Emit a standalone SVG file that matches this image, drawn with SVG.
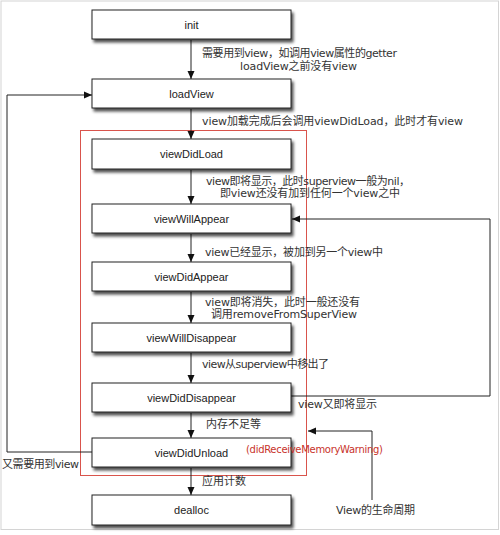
<svg xmlns="http://www.w3.org/2000/svg" width="500" height="535" viewBox="0 0 500 535">
<style>
.node rect{fill:#fff;stroke:#222;stroke-width:1;filter:url(#sh)}
.node text{font-family:"Liberation Sans","Noto Sans CJK SC",sans-serif;font-size:11px;fill:#222;text-anchor:middle}
.lbl{font-family:"DejaVu Sans","Noto Sans CJK SC",sans-serif;font-size:11px;fill:#333}
.red{fill:#c8322a;font-size:10px}
.conn path{fill:none;stroke:#222;stroke-width:1;marker-end:url(#ah)}
</style>
<defs>
<filter id="sh" x="-10%" y="-30%" width="130%" height="180%">
<feGaussianBlur in="SourceAlpha" stdDeviation="1.5"/>
<feOffset dx="1.5" dy="2.5" result="b"/>
<feComponentTransfer><feFuncA type="linear" slope="0.7"/></feComponentTransfer>
<feMerge><feMergeNode/><feMergeNode in="SourceGraphic"/></feMerge>
</filter>
<marker id="ah" markerWidth="8" markerHeight="8" refX="8" refY="4" orient="auto" markerUnits="userSpaceOnUse">
<path d="M0,0.5 L8,4 L0,7.5 Z" fill="#111"/>
</marker>
</defs>
<rect x="0" y="0" width="500" height="535" fill="#fff"/>
<rect x="1" y="1" width="497.5" height="528.5" fill="none" stroke="#d4d4d4" stroke-width="1"/>
<rect x="80.5" y="130.5" width="226" height="345" fill="none" stroke="#d9544c" stroke-width="1"/>

<g class="conn">
<path d="M191,40 V79"/>
<path d="M191,109 V139"/>
<path d="M191,170 V204"/>
<path d="M191,234 V262"/>
<path d="M191,292 V323"/>
<path d="M191,353 V383"/>
<path d="M191,413 V438"/>
<path d="M191,468 V495"/>
<path d="M92,452 H7 V95 H92"/>
<path d="M291,396 H490 V219 H292"/>
<path d="M372,500 V431 H308"/>
</g>

<g id="init" class="node"><rect x="92" y="10" width="199" height="29"/><text x="191.5" y="28.5">init</text></g>
<g id="loadView" class="node"><rect x="92" y="79" width="199" height="29"/><text x="191.5" y="97.5">loadView</text></g>
<g id="viewDidLoad" class="node"><rect x="92" y="139" width="199" height="30"/><text x="191.5" y="158">viewDidLoad</text></g>
<g id="viewWillAppear" class="node"><rect x="92" y="204" width="199" height="29"/><text x="191.5" y="222.5">viewWillAppear</text></g>
<g id="viewDidAppear" class="node"><rect x="92" y="262" width="199" height="29"/><text x="191.5" y="280.5">viewDidAppear</text></g>
<g id="viewWillDisappear" class="node"><rect x="92" y="323" width="199" height="29"/><text x="191.5" y="341.5">viewWillDisappear</text></g>
<g id="viewDidDisappear" class="node"><rect x="92" y="383" width="199" height="29"/><text x="191.5" y="401.5">viewDidDisappear</text></g>
<g id="viewDidUnload" class="node"><rect x="92" y="438" width="199" height="29"/><text x="191.5" y="456.5">viewDidUnload</text></g>
<g id="dealloc" class="node"><rect x="92" y="495" width="199" height="30"/><text x="191.5" y="514">dealloc</text></g>

<g id="labels">
<text class="lbl" x="202" y="57" textLength="195">需要用到view，如调用view属性的getter</text>
<text class="lbl" x="240" y="70" textLength="117">loadView之前没有view</text>
<text class="lbl" x="202" y="125" textLength="261">view加载完成后会调用viewDidLoad，此时才有view</text>
<text class="lbl" x="206" y="185" textLength="204">view即将显示，此时superview一般为nil，</text>
<text class="lbl" x="220" y="197" textLength="180">即view还没有加到任何一个view之中</text>
<text class="lbl" x="205" y="256" textLength="178">view已经显示，被加到另一个view中</text>
<text class="lbl" x="205" y="306" textLength="155">view即将消失，此时一般还没有</text>
<text class="lbl" x="211" y="318" textLength="146">调用removeFromSuperView</text>
<text class="lbl" x="202" y="368" textLength="127">view从superview中移出了</text>
<text class="lbl" x="298" y="408" textLength="79">view又即将显示</text>
<text class="lbl" x="206" y="428">内存不足等</text>
<text class="lbl red" x="246" y="453" textLength="137">(didReceiveMemoryWarning)</text>
<text class="lbl" x="2" y="468" textLength="77">又需要用到view</text>
<text class="lbl" x="202" y="485">应用计数</text>
<text class="lbl" x="336" y="514" textLength="79">View的生命周期</text>
</g>
</svg>
